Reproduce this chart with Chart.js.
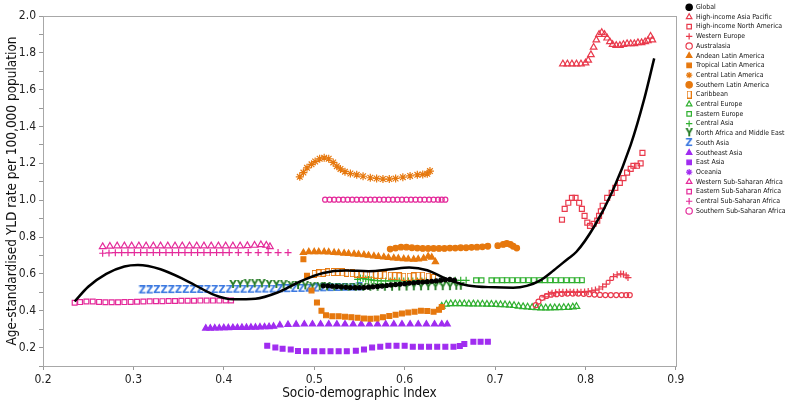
<!DOCTYPE html>
<html>
<head>
<meta charset="utf-8">
<script src="https://cdn.jsdelivr.net/npm/chart.js@4.4.0/dist/chart.umd.min.js"></script>
<style>
  html, body { margin: 0; padding: 0; background: #fff; }
</style>
</head>
<body>
<canvas id="chartSdi" width="787" height="408"></canvas>
<script>
// series: [SDI, YLD rate] pairs
const globalPts = [[0.51,0.535],[0.515,0.535],[0.52,0.533],[0.525,0.531],[0.53,0.529],[0.535,0.527],[0.54,0.526],[0.545,0.525],[0.55,0.525],[0.555,0.526],[0.56,0.528],[0.565,0.53],[0.57,0.532],[0.575,0.534],[0.58,0.537],[0.585,0.54],[0.59,0.542],[0.595,0.545],[0.6,0.547],[0.605,0.55],[0.61,0.552],[0.615,0.554],[0.62,0.556],[0.625,0.558],[0.63,0.56],[0.635,0.562],[0.64,0.566],[0.645,0.568],[0.65,0.57],[0.655,0.566]];
const hiAsiaPacific = [[0.775,1.74],[0.78,1.74],[0.785,1.74],[0.79,1.74],[0.795,1.74],[0.8,1.745],[0.803,1.76],[0.806,1.79],[0.809,1.83],[0.812,1.87],[0.815,1.9],[0.818,1.91],[0.821,1.9],[0.824,1.88],[0.827,1.86],[0.83,1.845],[0.834,1.84],[0.838,1.84],[0.842,1.845],[0.846,1.85],[0.85,1.85],[0.854,1.85],[0.858,1.855],[0.862,1.855],[0.866,1.86],[0.869,1.865],[0.872,1.89],[0.874,1.87]];
const hiNorthAmerica = [[0.774,0.894],[0.777,0.953],[0.781,0.986],[0.785,1.013],[0.789,1.013],[0.793,0.986],[0.796,0.953],[0.799,0.915],[0.802,0.878],[0.805,0.861],[0.809,0.872],[0.813,0.889],[0.815,0.915],[0.817,0.94],[0.819,0.97],[0.824,1.013],[0.829,1.04],[0.833,1.067],[0.838,1.094],[0.842,1.12],[0.846,1.15],[0.85,1.17],[0.853,1.187],[0.857,1.187],[0.861,1.2],[0.863,1.257]];
const westernEurope = [[0.755,0.475],[0.759,0.49],[0.763,0.495],[0.767,0.498],[0.771,0.5],[0.775,0.5],[0.779,0.5],[0.783,0.5],[0.787,0.5],[0.791,0.5],[0.795,0.5],[0.799,0.502],[0.803,0.505],[0.807,0.508],[0.811,0.512],[0.815,0.518],[0.819,0.53],[0.823,0.545],[0.827,0.565],[0.831,0.585],[0.835,0.595],[0.839,0.6],[0.842,0.598],[0.845,0.59],[0.847,0.58]];
const australasia = [[0.745,0.43],[0.748,0.45],[0.752,0.47],[0.757,0.48],[0.762,0.487],[0.768,0.49],[0.774,0.492],[0.78,0.493],[0.786,0.493],[0.792,0.493],[0.798,0.492],[0.804,0.49],[0.81,0.488],[0.816,0.486],[0.822,0.485],[0.828,0.485],[0.834,0.485],[0.84,0.485],[0.845,0.485],[0.849,0.485]];
const andeanLA = [[0.488,0.715],[0.494,0.72],[0.5,0.72],[0.505,0.72],[0.511,0.72],[0.516,0.718],[0.522,0.716],[0.527,0.714],[0.533,0.712],[0.538,0.71],[0.544,0.708],[0.549,0.706],[0.555,0.703],[0.56,0.7],[0.566,0.697],[0.571,0.694],[0.577,0.691],[0.582,0.688],[0.588,0.686],[0.593,0.684],[0.599,0.682],[0.604,0.68],[0.61,0.679],[0.615,0.68],[0.621,0.684],[0.626,0.695],[0.63,0.69],[0.634,0.665]];
const tropicalLA = [[0.488,0.68],[0.492,0.59],[0.497,0.51],[0.503,0.445],[0.508,0.4],[0.513,0.375],[0.52,0.37],[0.527,0.37],[0.534,0.368],[0.541,0.365],[0.548,0.362],[0.555,0.358],[0.562,0.356],[0.569,0.358],[0.576,0.365],[0.583,0.372],[0.59,0.378],[0.597,0.385],[0.604,0.39],[0.611,0.395],[0.618,0.4],[0.625,0.398],[0.632,0.395],[0.638,0.405],[0.641,0.42]];
const centralLA = [[0.484,1.127],[0.488,1.15],[0.492,1.176],[0.497,1.195],[0.501,1.21],[0.506,1.225],[0.511,1.23],[0.516,1.225],[0.521,1.205],[0.525,1.185],[0.529,1.17],[0.534,1.155],[0.54,1.145],[0.547,1.138],[0.554,1.13],[0.562,1.122],[0.569,1.118],[0.576,1.115],[0.583,1.115],[0.59,1.118],[0.598,1.125],[0.606,1.132],[0.614,1.138],[0.62,1.14],[0.625,1.143],[0.628,1.158]];
const southernLA = [[0.584,0.735],[0.59,0.74],[0.596,0.745],[0.602,0.745],[0.608,0.742],[0.614,0.74],[0.62,0.738],[0.626,0.738],[0.632,0.738],[0.638,0.738],[0.644,0.738],[0.65,0.74],[0.656,0.74],[0.662,0.742],[0.668,0.742],[0.674,0.744],[0.68,0.745],[0.686,0.747],[0.692,0.75],[0.703,0.753],[0.709,0.76],[0.713,0.765],[0.717,0.76],[0.72,0.75],[0.724,0.74]];
const caribbean = [[0.5,0.6],[0.505,0.603],[0.51,0.606],[0.515,0.608],[0.521,0.61],[0.526,0.61],[0.531,0.608],[0.536,0.606],[0.542,0.604],[0.547,0.602],[0.552,0.6],[0.557,0.6],[0.563,0.598],[0.568,0.596],[0.573,0.594],[0.578,0.592],[0.584,0.59],[0.589,0.588],[0.594,0.586],[0.599,0.585],[0.605,0.585],[0.61,0.586],[0.615,0.59],[0.62,0.59],[0.626,0.585],[0.632,0.578]];
const centralEurope = [[0.641,0.425],[0.646,0.435],[0.651,0.438],[0.656,0.438],[0.661,0.438],[0.666,0.438],[0.671,0.437],[0.676,0.437],[0.681,0.436],[0.686,0.436],[0.691,0.435],[0.696,0.435],[0.701,0.434],[0.706,0.433],[0.711,0.432],[0.716,0.43],[0.721,0.428],[0.726,0.425],[0.731,0.422],[0.736,0.42],[0.741,0.418],[0.746,0.416],[0.751,0.415],[0.756,0.415],[0.761,0.415],[0.766,0.416],[0.771,0.416],[0.776,0.417],[0.781,0.418],[0.786,0.42],[0.79,0.423]];
const easternEurope = [[0.679,0.565],[0.685,0.565],[0.696,0.565],[0.702,0.565],[0.708,0.566],[0.713,0.566],[0.719,0.566],[0.725,0.566],[0.731,0.566],[0.737,0.566],[0.743,0.566],[0.749,0.566],[0.755,0.566],[0.761,0.566],[0.767,0.566],[0.773,0.566],[0.779,0.566],[0.785,0.566],[0.791,0.566],[0.796,0.566]];
const centralAsia = [[0.548,0.57],[0.551,0.578],[0.554,0.575],[0.557,0.572],[0.56,0.57],[0.563,0.568],[0.566,0.565],[0.57,0.563],[0.574,0.562],[0.579,0.562],[0.584,0.562],[0.589,0.562],[0.594,0.562],[0.599,0.562],[0.604,0.562],[0.609,0.562],[0.614,0.562],[0.619,0.562],[0.624,0.562],[0.629,0.562],[0.634,0.562],[0.639,0.562],[0.644,0.565],[0.65,0.565],[0.656,0.565],[0.662,0.565],[0.668,0.565]];
const northAfricaME = [[0.41,0.54],[0.418,0.542],[0.426,0.543],[0.434,0.543],[0.442,0.543],[0.45,0.542],[0.458,0.54],[0.466,0.538],[0.474,0.536],[0.482,0.534],[0.49,0.532],[0.498,0.53],[0.506,0.528],[0.514,0.527],[0.522,0.526],[0.53,0.525],[0.538,0.525],[0.546,0.525],[0.554,0.525],[0.562,0.525],[0.57,0.525],[0.578,0.525],[0.586,0.525],[0.594,0.526],[0.602,0.526],[0.61,0.527],[0.618,0.527],[0.626,0.528],[0.634,0.528],[0.642,0.528],[0.65,0.528],[0.657,0.53],[0.662,0.53]];
const southAsia = [[0.31,0.51],[0.318,0.51],[0.326,0.512],[0.334,0.512],[0.342,0.512],[0.35,0.513],[0.358,0.513],[0.366,0.513],[0.374,0.513],[0.382,0.513],[0.39,0.513],[0.398,0.513],[0.406,0.514],[0.414,0.514],[0.422,0.514],[0.43,0.514],[0.438,0.515],[0.446,0.515],[0.454,0.515],[0.462,0.516],[0.47,0.517],[0.478,0.518],[0.486,0.519],[0.494,0.52],[0.502,0.521],[0.51,0.522],[0.518,0.523],[0.526,0.524],[0.534,0.525],[0.542,0.526],[0.55,0.527]];
const southeastAsia = [[0.38,0.305],[0.385,0.305],[0.39,0.306],[0.395,0.306],[0.4,0.307],[0.405,0.307],[0.41,0.308],[0.415,0.308],[0.42,0.309],[0.425,0.309],[0.43,0.31],[0.435,0.31],[0.44,0.311],[0.445,0.312],[0.45,0.313],[0.455,0.315],[0.462,0.322],[0.471,0.325],[0.48,0.326],[0.489,0.327],[0.498,0.327],[0.507,0.327],[0.516,0.327],[0.525,0.327],[0.534,0.327],[0.543,0.327],[0.552,0.327],[0.561,0.327],[0.57,0.327],[0.579,0.327],[0.588,0.327],[0.597,0.327],[0.606,0.327],[0.615,0.327],[0.624,0.327],[0.633,0.327],[0.641,0.327],[0.647,0.327]];
const eastAsia = [[0.448,0.21],[0.457,0.2],[0.465,0.194],[0.474,0.19],[0.482,0.182],[0.491,0.18],[0.5,0.18],[0.509,0.18],[0.518,0.18],[0.527,0.18],[0.536,0.18],[0.546,0.183],[0.555,0.19],[0.564,0.2],[0.573,0.205],[0.582,0.21],[0.591,0.21],[0.6,0.21],[0.609,0.205],[0.618,0.205],[0.627,0.205],[0.636,0.205],[0.645,0.205],[0.654,0.205],[0.661,0.208],[0.666,0.22],[0.676,0.232],[0.684,0.232],[0.692,0.232]];
const oceania = [];
const westernSSA = [[0.266,0.748],[0.274,0.75],[0.282,0.752],[0.29,0.752],[0.298,0.752],[0.306,0.752],[0.314,0.752],[0.322,0.752],[0.33,0.752],[0.338,0.752],[0.346,0.752],[0.354,0.752],[0.362,0.752],[0.37,0.752],[0.378,0.752],[0.386,0.752],[0.394,0.752],[0.402,0.752],[0.41,0.752],[0.418,0.752],[0.426,0.753],[0.434,0.755],[0.441,0.758],[0.447,0.755],[0.451,0.748]];
const easternSSA = [[0.235,0.443],[0.241,0.447],[0.248,0.45],[0.255,0.45],[0.262,0.448],[0.269,0.446],[0.276,0.446],[0.283,0.446],[0.29,0.447],[0.297,0.448],[0.304,0.449],[0.311,0.45],[0.318,0.451],[0.325,0.452],[0.332,0.452],[0.339,0.453],[0.346,0.453],[0.353,0.454],[0.36,0.454],[0.367,0.454],[0.374,0.455],[0.381,0.455],[0.388,0.455],[0.395,0.455],[0.402,0.456],[0.408,0.456]];
const centralSSA = [[0.266,0.712],[0.273,0.714],[0.28,0.715],[0.287,0.715],[0.294,0.716],[0.301,0.716],[0.308,0.716],[0.315,0.716],[0.322,0.716],[0.329,0.716],[0.336,0.716],[0.343,0.716],[0.35,0.716],[0.357,0.716],[0.364,0.716],[0.371,0.716],[0.378,0.716],[0.385,0.716],[0.392,0.716],[0.399,0.716],[0.406,0.716],[0.416,0.716],[0.427,0.716],[0.438,0.716],[0.449,0.716],[0.46,0.716],[0.471,0.716]];
const southernSSA = [[0.512,1.003],[0.517,1.003],[0.522,1.003],[0.527,1.003],[0.532,1.003],[0.537,1.003],[0.542,1.003],[0.547,1.003],[0.552,1.003],[0.557,1.003],[0.562,1.003],[0.567,1.003],[0.572,1.003],[0.577,1.003],[0.582,1.003],[0.587,1.003],[0.592,1.003],[0.597,1.003],[0.602,1.003],[0.607,1.003],[0.612,1.003],[0.617,1.003],[0.622,1.003],[0.627,1.003],[0.632,1.003],[0.637,1.003],[0.641,1.003],[0.645,1.003]];

// expected values line (black curve)
const expectedCurve = [[0.235,0.45],[0.25,0.53],[0.27,0.6],[0.29,0.64],[0.305,0.648],[0.33,0.625],[0.36,0.56],[0.39,0.485],[0.41,0.462],[0.435,0.465],[0.46,0.5],[0.485,0.56],[0.51,0.605],[0.535,0.618],[0.56,0.615],[0.585,0.625],[0.605,0.635],[0.625,0.62],[0.645,0.575],[0.67,0.537],[0.7,0.527],[0.72,0.525],[0.735,0.535],[0.75,0.565],[0.765,0.62],[0.78,0.68],[0.79,0.72],[0.81,0.86],[0.83,1.05],[0.85,1.3],[0.865,1.55],[0.876,1.77]];

const xTicks = { min: 0.2, max: 0.9, step: 0.1 };
const yTicks = { min: 0.1, max: 2.0, step: 0.1 };

const FONT = "'Liberation Sans Narrow', 'DejaVu Sans Condensed', 'Roboto Condensed', sans-serif";
const RED = '#e93a4c', ORANGE = '#e6780e', GREEN = '#30b030', DKGREEN = '#237a23',
      BLUE = '#3a78e0', PURPLE = '#a02cf0', MAGENTA = '#e42a9a';

// letter markers (Y / Z) and the tall box used for Caribbean
function glyph(ch, color) {
  const c = document.createElement('canvas');
  c.width = 8; c.height = 10;
  const g = c.getContext('2d');
  g.fillStyle = color;
  g.font = "bold 10px 'DejaVu Sans', sans-serif";
  g.textAlign = 'center';
  g.textBaseline = 'middle';
  g.fillText(ch, 4, 5.5);
  return c;
}
function tallBox(color) {
  const c = document.createElement('canvas');
  c.width = 5; c.height = 8;
  const g = c.getContext('2d');
  g.strokeStyle = color;
  g.lineWidth = 1;
  g.strokeRect(0.5, 0.5, 4, 7);
  return c;
}

const toPts = arr => arr.map(p => ({ x: p[0], y: p[1] }));
const HOLLOW = 'rgba(0,0,0,0)';

function series(label, pts, style, color, filled, radius) {
  return {
    label: label,
    data: toPts(pts),
    pointStyle: style,
    pointRadius: radius,
    pointHoverRadius: radius,
    backgroundColor: filled ? color : HOLLOW,
    borderColor: color,
    pointBorderWidth: 1.2,
    borderWidth: 1.2,
    showLine: false,
    order: 1
  };
}

const datasets = [
  series('Global', globalPts, 'circle', '#000', true, 2),
  series('High-income Asia Pacific', hiAsiaPacific, 'triangle', RED, false, 3.8),
  series('High-income North America', hiNorthAmerica, 'rect', RED, false, 3.5),
  series('Western Europe', westernEurope, 'cross', RED, false, 3.5),
  series('Australasia', australasia, 'circle', RED, false, 2.5),
  series('Andean Latin America', andeanLA, 'triangle', ORANGE, true, 3.6),
  series('Tropical Latin America', tropicalLA, 'rect', ORANGE, true, 3.4),
  series('Central Latin America', centralLA, 'star', ORANGE, false, 4),
  series('Southern Latin America', southernLA, 'circle', ORANGE, true, 2.8),
  series('Caribbean', caribbean, tallBox(ORANGE), ORANGE, false, 3),
  series('Central Europe', centralEurope, 'triangle', GREEN, false, 3.8),
  series('Eastern Europe', easternEurope, 'rect', GREEN, false, 3.4),
  series('Central Asia', centralAsia, 'cross', GREEN, false, 3.5),
  series('North Africa and Middle East', northAfricaME, glyph('Y', DKGREEN), DKGREEN, true, 3),
  series('South Asia', southAsia, glyph('Z', BLUE), BLUE, true, 3),
  series('Southeast Asia', southeastAsia, 'triangle', PURPLE, true, 3.6),
  series('East Asia', eastAsia, 'rect', PURPLE, true, 3.4),
  series('Oceania', oceania, 'star', PURPLE, false, 4),
  series('Western Sub-Saharan Africa', westernSSA, 'triangle', MAGENTA, false, 3.8),
  series('Eastern Sub-Saharan Africa', easternSSA, 'rect', MAGENTA, false, 3.4),
  series('Central Sub-Saharan Africa', centralSSA, 'cross', MAGENTA, false, 3.5),
  series('Southern Sub-Saharan Africa', southernSSA, 'circle', MAGENTA, false, 2.5),
  {
    label: '',
    data: toPts(expectedCurve),
    showLine: true,
    borderColor: '#000',
    backgroundColor: '#000',
    borderWidth: 2.5,
    pointRadius: 0,
    cubicInterpolationMode: 'monotone',
    order: -1
  }
];

// grey frame around the plot
const plotFrame = {
  id: 'plotFrame',
  beforeDatasetsDraw(chart) {
    const a = chart.chartArea, ctx = chart.ctx;
    ctx.save();
    ctx.strokeStyle = '#a8a8a8';
    ctx.lineWidth = 1;
    ctx.strokeRect(Math.round(a.left) + 0.5, Math.round(a.top) + 0.5, Math.round(a.right - a.left), Math.round(a.bottom - a.top));
    ctx.restore();
  }
};

// move the legend up into the top corner
const legendNudge = {
  id: 'legendNudge',
  afterLayout(chart) {
    const lg = chart.legend;
    lg.left += 7; lg.right += 7;
    lg.top -= 15; lg.bottom -= 15;
  }
};

Chart.defaults.font.family = FONT;
Chart.defaults.color = '#222';

new Chart(document.getElementById('chartSdi'), {
  type: 'scatter',
  data: { datasets: datasets },
  plugins: [plotFrame, legendNudge],
  options: {
    responsive: false,
    animation: false,
    layout: { padding: { top: 16, right: -1.6, bottom: 0, left: 0 } },
    plugins: {
      tooltip: { enabled: false },
      legend: {
        position: 'right',
        align: 'start',
        labels: {
          usePointStyle: true,
          boxWidth: 7,
          boxHeight: 4.5,
          padding: 2.8,
          color: '#111',
          font: { size: 6.9 },
          filter: item => item.text !== ''
        }
      }
    },
    scales: {
      x: {
        type: 'linear',
        min: xTicks.min,
        max: xTicks.max,
        afterFit: s => { s.height = 42; },
        grid: { drawOnChartArea: false, tickLength: 4, color: '#999' },
        border: { color: '#999' },
        ticks: {
          stepSize: xTicks.step,
          color: '#222',
          font: { size: 12 },
          padding: 3,
          callback: v => v.toFixed(1)
        },
        title: {
          display: true,
          text: 'Socio-demographic Index',
          color: '#111',
          font: { size: 13.5 },
          padding: { top: 0, bottom: 6 }
        }
      },
      y: {
        type: 'linear',
        min: yTicks.min,
        max: yTicks.max,
        afterFit: s => { s.width = 43; },
        grid: { drawOnChartArea: false, tickLength: 4, color: '#999' },
        border: { color: '#999' },
        ticks: {
          stepSize: yTicks.step,
          autoSkip: false,
          color: '#222',
          font: { size: 12 },
          padding: 3,
          callback: v => (Math.round(v * 10) % 2 === 0 ? v.toFixed(1) : '')
        },
        title: {
          display: true,
          text: 'Age-standardised YLD rate per 100,000 population',
          color: '#111',
          font: { size: 13.5 },
          padding: { top: 4, bottom: 0 }
        }
      }
    }
  }
});
</script>
</body>
</html>
